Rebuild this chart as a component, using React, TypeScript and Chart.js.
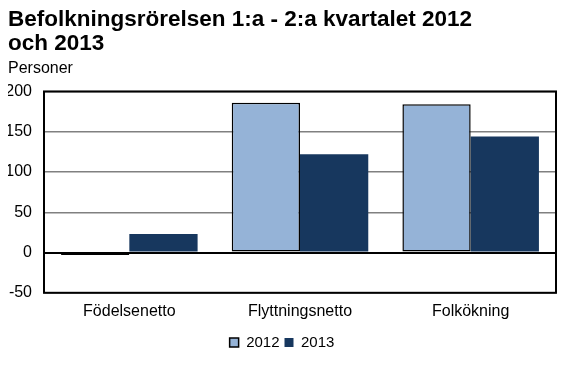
import React, { useEffect, useRef } from "react";
import { Chart, registerables } from "chart.js";
Chart.register(...registerables);

const categories = ["Födelsenetto", "Flyttningsnetto", "Folkökning"];
const values2012 = [-3, 186, 184];
const values2013 = [23, 122, 144];
const seriesLabels = ["2012", "2013"];
const titleLines = ["Befolkningsrörelsen 1:a - 2:a kvartalet 2012", "och 2013"];
const subtitleText = "Personer";

const FONT = "Arial, 'Liberation Sans', sans-serif";

const frame = {
  id: "frame",
  afterDatasetsDraw(chart: any) {
    const { ctx, chartArea: a } = chart;
    ctx.save();
    ctx.strokeStyle = "#000";
    ctx.lineWidth = 2;
    ctx.strokeRect(a.left, a.top, a.right - a.left, a.bottom - a.top);
    ctx.restore();
  },
};

export default function App() {
  const ref = useRef<HTMLCanvasElement>(null);
  useEffect(() => {
    const chart = new Chart(ref.current!, {
      type: "bar",
      data: {
        labels: categories,
        datasets: [
          {
            label: seriesLabels[0],
            data: values2012,
            backgroundColor: "#95b3d7",
            borderColor: "#000",
            borderWidth: 1.5,
            borderSkipped: false,
            categoryPercentage: 0.8,
            barPercentage: 1,
          },
          {
            label: seriesLabels[1],
            data: values2013,
            backgroundColor: "#17375e",
            borderWidth: 0,
            categoryPercentage: 0.8,
            barPercentage: 1,
          },
        ],
      },
      options: {
        responsive: false,
        animation: false,
        layout: { padding: { left: 8, right: 24, top: 0, bottom: 9 } },
        plugins: {
          title: {
            display: true,
            text: titleLines,
            align: "start",
            color: "#000",
            font: { family: FONT, size: 22.5, weight: "bold", lineHeight: 1.05 },
            padding: { top: 8, bottom: 0 },
          },
          subtitle: {
            display: true,
            text: subtitleText,
            align: "start",
            color: "#000",
            font: { family: FONT, size: 16, lineHeight: 1.2 },
            padding: { top: 4, bottom: 13 },
          },
          legend: {
            position: "bottom",
            labels: {
              color: "#000",
              boxWidth: 9,
              boxHeight: 9,
              padding: 5,
              font: { family: FONT, size: 15 },
            },
          },
          tooltip: { enabled: false },
        },
        scales: {
          x: {
            grid: { display: false, drawTicks: false },
            border: { display: false },
            ticks: { color: "#000", padding: 9, font: { family: FONT, size: 16 } },
          },
          y: {
            min: -50,
            max: 200,
            afterFit: (s: any) => { s.width = 36; },
            ticks: { stepSize: 50, color: "#000", padding: 12, font: { family: FONT, size: 16 } },
            grid: {
              drawTicks: false,
              color: (c: any) => (c.tick && c.tick.value === 0 ? "#000" : "#808080"),
              lineWidth: (c: any) => (c.tick && c.tick.value === 0 ? 2 : 1.5),
            },
            border: { display: false },
          },
        },
      },
      plugins: [frame],
    });
    return () => chart.destroy();
  }, []);
  return (
    <div style={{ position: "absolute", left: 0, top: 0, width: 580, height: 369, background: "#fff" }}>
      <canvas ref={ref} width={580} height={369} />
    </div>
  );
}
